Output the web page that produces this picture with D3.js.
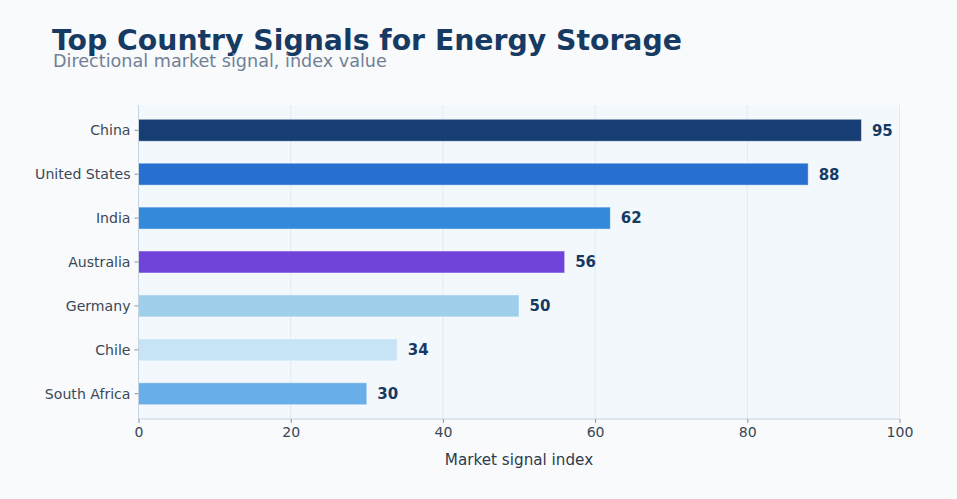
<!DOCTYPE html>
<html>
<head>
<meta charset="utf-8">
<script src="https://cdn.jsdelivr.net/npm/d3@7"></script>
<style>
  body { margin: 0; background: #f8fafc; }
  svg { display: block; font-family: "DejaVu Sans", sans-serif; }
</style>
</head>
<body>
<div id="chart"></div>
<script>
// chart data
const countries = ["China", "United States", "India", "Australia", "Germany", "Chile", "South Africa"];
const signalValues = [95, 88, 62, 56, 50, 34, 30];
const barColors = ["#173e74", "#2870cf", "#3389da", "#7043da", "#9fcfea", "#c6e4f6", "#68aee9"];
const xTicks = [0, 20, 40, 60, 80, 100];

const width = 957, height = 499;
const margin = { top: 105, right: 57.5, bottom: 80, left: 138.5 };
const innerW = width - margin.left - margin.right;
const innerH = height - margin.top - margin.bottom;

const svg = d3.select("#chart")
  .append("svg")
  .attr("width", width)
  .attr("height", height);

svg.append("rect")
  .attr("width", width)
  .attr("height", height)
  .attr("fill", "#f8fafc");

// title + subtitle
svg.append("text")
  .attr("x", 52)
  .attr("y", 50)
  .attr("fill", "#173a63")
  .style("font-size", "28.3px")
  .style("font-weight", "bold")
  .text("Top Country Signals for Energy Storage");

svg.append("text")
  .attr("x", 53)
  .attr("y", 67)
  .attr("fill", "#718096")
  .style("font-size", "17.6px")
  .text("Directional market signal, index value");

const g = svg.append("g")
  .attr("transform", "translate(" + margin.left + "," + margin.top + ")");

g.append("rect")
  .attr("width", innerW)
  .attr("height", innerH)
  .attr("fill", "#f3f8fd");

const x = d3.scaleLinear().domain([0, 100]).range([0, innerW]);

// bars are 0.5 wide in band units, with 5% margins like matplotlib
const n = countries.length;
const lo = -0.25 - 0.05 * (n - 0.5), hi = n - 0.75 + 0.05 * (n - 0.5);
const yPos = d3.scaleLinear().domain([lo, hi]).range([0, innerH]);
const bandH = yPos(1) - yPos(0);

// vertical grid
g.selectAll(".grid")
  .data(xTicks.slice(1))
  .enter()
  .append("line")
  .attr("x1", d => x(d))
  .attr("x2", d => x(d))
  .attr("y1", 0)
  .attr("y2", innerH)
  .attr("stroke", "#e1eaf3")
  .attr("stroke-width", 1);

// bars
g.selectAll(".bar")
  .data(countries)
  .enter()
  .append("rect")
  .attr("x", x(0))
  .attr("y", (d, i) => yPos(i) - bandH * 0.25)
  .attr("width", (d, i) => x(signalValues[i]) - x(0))
  .attr("height", bandH * 0.5)
  .attr("fill", (d, i) => barColors[i])
  .attr("stroke", "rgba(255,255,255,0.45)")
  .attr("stroke-width", 1);

// value labels
g.selectAll(".val")
  .data(countries)
  .enter()
  .append("text")
  .attr("x", (d, i) => x(signalValues[i]) + 10.5)
  .attr("y", (d, i) => yPos(i))
  .attr("dy", "0.36em")
  .attr("fill", "#173a63")
  .style("font-size", "15px")
  .style("font-weight", "bold")
  .text((d, i) => signalValues[i]);

// spines
g.append("line")
  .attr("x1", 0).attr("x2", 0)
  .attr("y1", 0).attr("y2", innerH)
  .attr("stroke", "#c6d4e2");
g.append("line")
  .attr("x1", 0).attr("x2", innerW)
  .attr("y1", innerH).attr("y2", innerH)
  .attr("stroke", "#c6d4e2");

// y axis labels
const yAxis = g.append("g");
countries.forEach((c, i) => {
  yAxis.append("line")
    .attr("x1", -4).attr("x2", 0)
    .attr("y1", yPos(i)).attr("y2", yPos(i))
    .attr("stroke", "#8896a8");
  yAxis.append("text")
    .attr("x", -8)
    .attr("y", yPos(i))
    .attr("dy", "0.36em")
    .attr("text-anchor", "end")
    .attr("fill", "#3b4757")
    .style("font-size", "14.1px")
    .text(c);
});

// x axis
const xAxis = g.append("g")
  .attr("transform", "translate(0," + innerH + ")")
  .call(d3.axisBottom(x).tickValues(xTicks).tickSize(4).tickPadding(4));
xAxis.select(".domain").remove();
xAxis.selectAll(".tick line").attr("stroke", "#8896a8");
xAxis.selectAll(".tick text")
  .attr("fill", "#3b4757")
  .style("font-size", "14.1px")
  .style("font-family", "DejaVu Sans, sans-serif");

svg.append("text")
  .attr("x", margin.left + innerW / 2)
  .attr("y", 465)
  .attr("text-anchor", "middle")
  .attr("fill", "#2f3b4b")
  .style("font-size", "15.2px")
  .text("Market signal index");
</script>
</body>
</html>
